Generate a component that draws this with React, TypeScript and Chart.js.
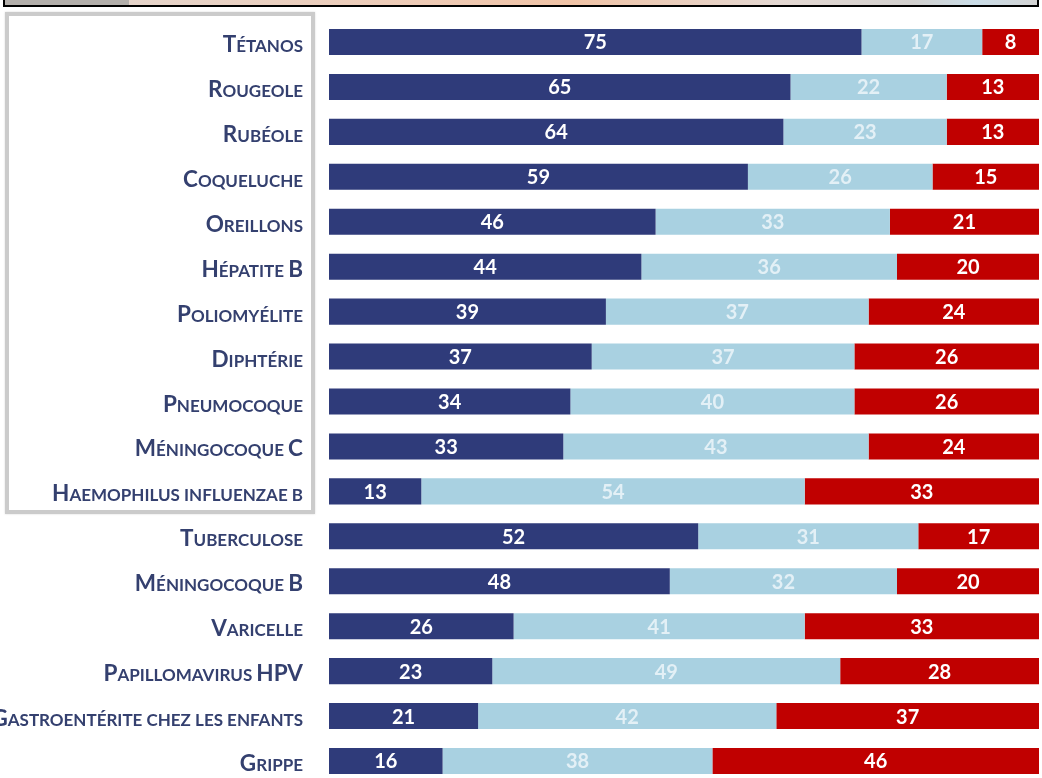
import React, { useEffect, useRef } from "react";
import { Chart, registerables } from "chart.js";

Chart.register(...registerables);

const categories = [
  "Tétanos",
  "Rougeole",
  "Rubéole",
  "Coqueluche",
  "Oreillons",
  "Hépatite B",
  "Poliomyélite",
  "Diphtérie",
  "Pneumocoque",
  "Méningocoque C",
  "Haemophilus influenzae b",
  "Tuberculose",
  "Méningocoque B",
  "Varicelle",
  "Papillomavirus HPV",
  "Gastroentérite chez les enfants",
  "Grippe",
];

const favorable = [75, 65, 64, 59, 46, 44, 39, 37, 34, 33, 13, 52, 48, 26, 23, 21, 16];
const neutre = [17, 22, 23, 26, 33, 36, 37, 37, 40, 43, 54, 31, 32, 41, 49, 42, 38];
const defavorable = [8, 13, 13, 15, 21, 20, 24, 26, 26, 24, 33, 17, 20, 33, 28, 37, 46];

const seriesNames = ["Favorable", "Sans opinion", "Défavorable"];
const seriesColors = ["#2f3b7a", "#a9d1e1", "#c00000"];
const valueColors = ["#ffffff", "#e3f0f6", "#ffffff"];

const LABEL_FONT = "Lato, 'Open Sans', sans-serif";

function drawSmallCaps(
  ctx: CanvasRenderingContext2D,
  text: string,
  xRight: number,
  yBase: number,
  big: number,
  small: number
) {
  const runs: { s: string; size: number }[] = [];
  for (const ch of Array.from(text)) {
    const isLower = ch !== ch.toUpperCase() || ch === " ";
    const size = isLower ? small : big;
    const c = ch.toUpperCase();
    if (runs.length && runs[runs.length - 1].size === size) runs[runs.length - 1].s += c;
    else runs.push({ s: c, size });
  }
  let total = 0;
  const widths: number[] = [];
  for (const r of runs) {
    ctx.font = `bold ${r.size}px ${LABEL_FONT}`;
    const w = ctx.measureText(r.s).width;
    widths.push(w);
    total += w;
  }
  let x = xRight - total;
  runs.forEach((r, i) => {
    ctx.font = `bold ${r.size}px ${LABEL_FONT}`;
    ctx.fillText(r.s, x, yBase);
    x += widths[i];
  });
}

const labelPlugin = {
  id: "customLabels",
  afterDraw(chart: any) {
    const ctx: CanvasRenderingContext2D = chart.ctx;
    const yScale = chart.scales.y;
    ctx.save();
    ctx.fillStyle = "#34406f";
    ctx.textAlign = "left";
    ctx.textBaseline = "alphabetic";
    categories.forEach((c, i) => {
      const y = yScale.getPixelForValue(i);
      drawSmallCaps(ctx, c, 303, y + 10, 22.5, 17);
    });
    ctx.restore();
  },
  afterDatasetsDraw(chart: any) {
    const ctx: CanvasRenderingContext2D = chart.ctx;
    ctx.save();
    ctx.textAlign = "center";
    ctx.textBaseline = "middle";
    ctx.font = `bold 20px ${LABEL_FONT}`;
    chart.data.datasets.forEach((ds: any, di: number) => {
      const meta = chart.getDatasetMeta(di);
      meta.data.forEach((el: any, i: number) => {
        const cx = (el.x + el.base) / 2;
        ctx.fillStyle = valueColors[di];
        ctx.fillText(String(ds.data[i]), cx, el.y + 1);
      });
    });
    ctx.restore();
  },
};

export default function App() {
  const ref = useRef<HTMLCanvasElement | null>(null);

  useEffect(() => {
    if (!ref.current) return;
    const seriesData = [favorable, neutre, defavorable];
    const chart = new Chart(ref.current, {
      type: "bar",
      data: {
        labels: categories,
        datasets: seriesData.map((d, i) => ({
          label: seriesNames[i],
          data: d,
          backgroundColor: seriesColors[i],
          borderWidth: 0,
          barPercentage: 0.58,
          categoryPercentage: 1,
          clip: false as any,
        })),
      },
      options: {
        indexAxis: "y",
        animation: false,
        responsive: false,
        maintainAspectRatio: false,
        layout: { padding: { left: 329, right: 3, top: 42, bottom: 17 } },
        scales: {
          x: { stacked: true, min: 0, max: 100, display: false },
          y: { stacked: true, offset: false, display: false },
        },
        plugins: {
          legend: { display: false },
          tooltip: { enabled: false },
        },
      },
      plugins: [labelPlugin],
    });
    return () => chart.destroy();
  }, []);

  return (
    <div
      style={{
        position: "absolute",
        left: 0,
        top: 0,
        width: 1042,
        height: 778,
        background: "#ffffff",
        overflow: "hidden",
      }}
    >
      <div
        style={{
          position: "absolute",
          left: 3,
          top: 0,
          width: 1036,
          height: 7,
          boxSizing: "border-box",
          borderLeft: "2px solid #000",
          borderRight: "2px solid #000",
          borderBottom: "2px solid #000",
          background:
            "linear-gradient(to right, #b3afab 0px, #b3afab 124px, #e6d5cb 124px, #eecbb6 40%, #f0c3a6 55%, #e4d8d2 75%, #d2d0ce 88%, #cadde8 94%, #d3d3d3 100%)",
        }}
      />
      <div
        style={{
          position: "absolute",
          left: 5,
          top: 12,
          width: 310,
          height: 502,
          boxSizing: "border-box",
          border: "4px solid #cbcbcb",
          boxShadow: "0 0 2px rgba(0,0,0,0.15)",
        }}
      />
      <canvas
        ref={ref}
        width={1042}
        height={778}
        style={{ position: "absolute", left: 0, top: 0, display: "block" }}
      />
    </div>
  );
}
